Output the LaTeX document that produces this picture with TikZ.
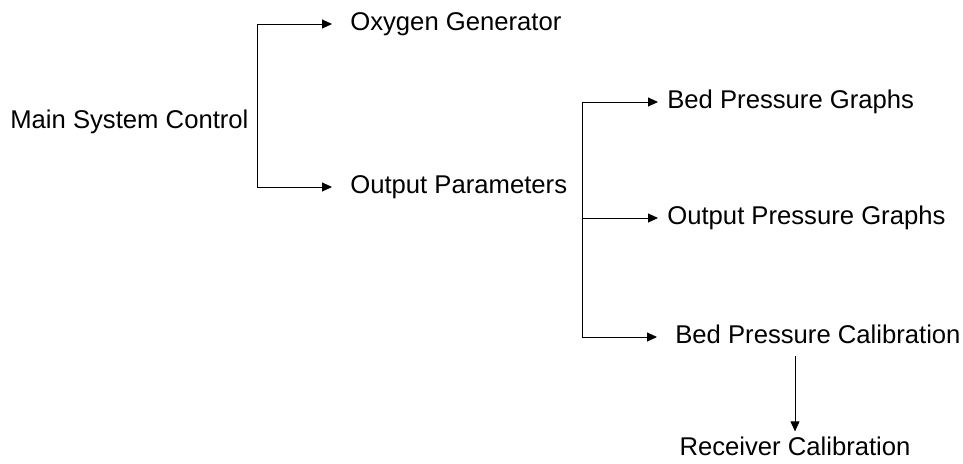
\documentclass[tikz,border=0pt]{standalone}
\usepackage{fontspec}
\setmainfont{Liberation Sans}
\usetikzlibrary{arrows.meta,calc}

\begin{document}
\begin{tikzpicture}[
  lbl/.style={inner sep=0pt, anchor=west, text height=0.716em, text depth=0pt,
    font=\fontsize{14.6}{17}\selectfont},
  arr/.style={line width=0.5pt, -{Triangle[length=0.2cm,width=0.18cm]}}]

\useasboundingbox (0,0) rectangle (19.26,-9.26);

\node[lbl] (msc) at (0.2,-2.44) {Main System Control};
\node[lbl] (oxy) at (7.0,-0.48) {Oxygen Generator};
\node[lbl] (outp) at (7.0,-3.74) {Output Parameters};

\node[lbl] (bpg) at (13.34,-2.04) {Bed Pressure Graphs};
\node[lbl] (opg) at (13.34,-4.36) {Output Pressure Graphs};
\node[lbl] (bpc) at (13.5,-6.74) {Bed Pressure Calibration};
\node[lbl, anchor=center] (rc) at (15.9,-8.98) {Receiver Calibration};

\coordinate (fork1) at (5.14,0);
\coordinate (fork2) at (11.64,0);

\draw[arr] (fork1 |- outp) |- ([xshift=-0.36cm]oxy.west);
\draw[arr] (fork1 |- outp) -- ([xshift=-0.36cm]outp.west);

\draw[arr] (fork2 |- bpc) |- ([xshift=-0.18cm]bpg.west);
\draw[arr] (fork2 |- opg) -- ([xshift=-0.18cm]opg.west);
\draw[arr] (fork2 |- bpc) -- ([xshift=-0.36cm]bpc.west);

\draw[arr] ($(rc.north |- bpc.south)+(0,-0.24)$) -- ([yshift=0.22cm]rc.north);
\end{tikzpicture}
\end{document}
